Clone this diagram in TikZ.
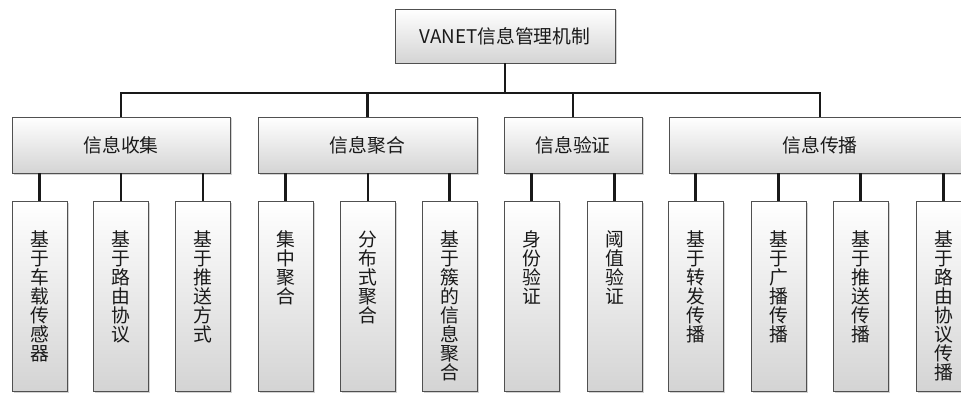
\documentclass[tikz,border=0pt]{standalone}
\usepackage{fontspec}
\setmainfont{Noto Sans CJK SC}
\usetikzlibrary{shadows}
\definecolor{boxline}{HTML}{505050}
\definecolor{boxfill}{HTML}{D4D4D4}
\newcommand{\vtxt}[1]{\parbox[c][180pt][t]{24pt}{\centering\vspace*{25pt}#1}}

\begin{document}
\begin{tikzpicture}[x=1pt,y=1pt,
  box/.style={draw=boxline,line width=0.9pt,top color=white,bottom color=boxfill,
              drop shadow={shadow xshift=1.5pt,shadow yshift=-1.5pt,opacity=0.35},
              inner sep=0pt,text=black!90,font=\fontsize{18.8pt}{19pt}\selectfont},
  leaf/.style={box,minimum width=55pt,minimum height=190pt},
  conn/.style={line width=2.4pt,black!90}]

  \useasboundingbox (0,0) rectangle (961,-393);

  % top box
  \node[box,minimum width=220pt,minimum height=54pt] (top) at (505,-36) {VANET信息管理机制};
  \coordinate (bus) at (505,-93);

  % second level
  \node[box,minimum width=218pt,minimum height=56pt] (collect) at (121,-145) {信息收集};
  \node[box,minimum width=219pt,minimum height=56pt] (aggr) at (367.5,-145) {信息聚合};
  \node[box,minimum width=138pt,minimum height=56pt] (verify) at (573,-145) {信息验证};
  \node[box,minimum width=302pt,minimum height=56pt] (spread) at (820,-145) {信息传播};

  % leaves
  \node[leaf] (sensor) at (39.5,-296) {\vtxt{基\\于\\车\\载\\传\\感\\器}};
  \node[leaf] (routing) at (121,-296) {\vtxt{基\\于\\路\\由\\协\\议}};
  \node[leaf] (push) at (203,-296) {\vtxt{基\\于\\推\\送\\方\\式}};
  \node[leaf] (central) at (285.5,-296) {\vtxt{集\\中\\聚\\合}};
  \node[leaf] (distrib) at (368,-296) {\vtxt{分\\布\\式\\聚\\合}};
  \node[leaf] (cluster) at (449.5,-296) {\vtxt{基\\于\\簇\\的\\信\\息\\聚\\合}};
  \node[leaf] (identity) at (531.5,-296) {\vtxt{身\\份\\验\\证}};
  \node[leaf] (threshold) at (614.5,-296) {\vtxt{阈\\值\\验\\证}};
  \node[leaf] (forward) at (695.5,-296) {\vtxt{基\\于\\转\\发\\传\\播}};
  \node[leaf] (broadcast) at (778.5,-296) {\vtxt{基\\于\\广\\播\\传\\播}};
  \node[leaf] (pushspread) at (860.5,-296) {\vtxt{基\\于\\推\\送\\传\\播}};
  \node[leaf] (routespread) at (943.5,-296) {\vtxt{基\\于\\路\\由\\协\\议\\传\\播}};

  % top to second level
  \draw[conn] (top.south) -- (bus);
  \draw[conn] (bus) -| (collect.north);
  \draw[conn] (bus) -| (aggr.north);
  \draw[conn] (bus) -| (verify.north);
  \draw[conn] (bus) -| (spread.north);

  % second level to leaves
  \draw[conn] (sensor.north |- collect.south) -- (sensor.north);
  \draw[conn] (routing.north |- collect.south) -- (routing.north);
  \draw[conn] (push.north |- collect.south) -- (push.north);
  \draw[conn] (central.north |- aggr.south) -- (central.north);
  \draw[conn] (distrib.north |- aggr.south) -- (distrib.north);
  \draw[conn] (cluster.north |- aggr.south) -- (cluster.north);
  \draw[conn] (identity.north |- verify.south) -- (identity.north);
  \draw[conn] (threshold.north |- verify.south) -- (threshold.north);
  \draw[conn] (forward.north |- spread.south) -- (forward.north);
  \draw[conn] (broadcast.north |- spread.south) -- (broadcast.north);
  \draw[conn] (pushspread.north |- spread.south) -- (pushspread.north);
  \draw[conn] (routespread.north |- spread.south) -- (routespread.north);

\end{tikzpicture}
\end{document}
